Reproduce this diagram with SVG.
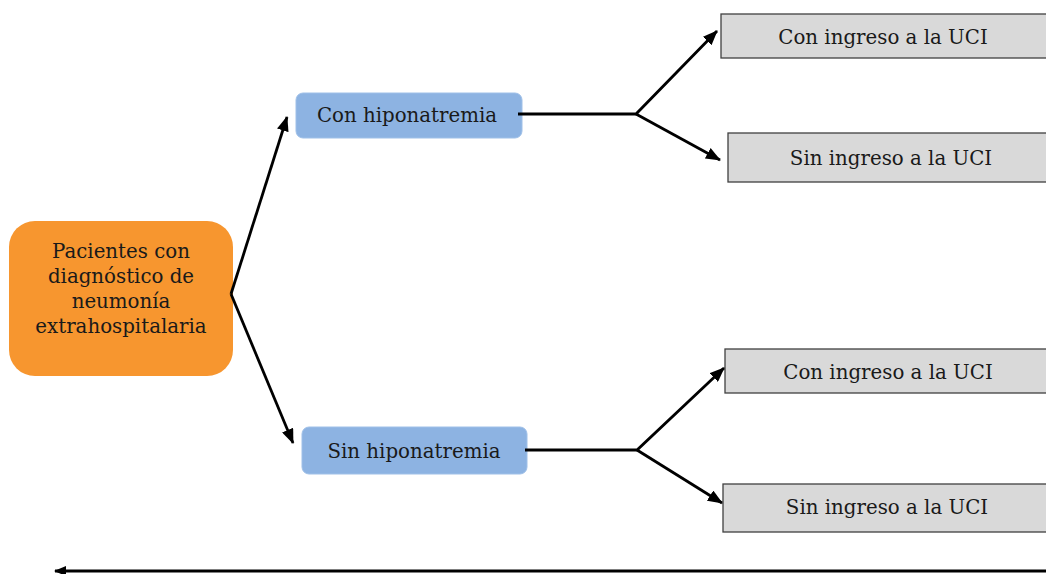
<svg xmlns="http://www.w3.org/2000/svg" width="1046" height="574" viewBox="0 0 1046 574">
<style>
.t{font-family:"DejaVu Serif","Liberation Serif",serif;font-size:19.8px;fill:#1a1a1a;text-anchor:middle;dominant-baseline:central}
.blue{fill:#8DB3E2;stroke:#9fc0e8;stroke-width:1}
.gray{fill:#D9D9D9;stroke:#404040;stroke-width:1.3}
.c{fill:none;stroke:#000;stroke-width:2.8;stroke-linejoin:miter}
</style>
<defs>
<marker id="ah" markerWidth="15" markerHeight="12" refX="14" refY="6" orient="auto" markerUnits="userSpaceOnUse">
<path d="M0,0 L15,6 L0,12 Z" fill="#000"/>
</marker>
<marker id="ah2" markerWidth="12" markerHeight="10" refX="11" refY="5" orient="auto" markerUnits="userSpaceOnUse">
<path d="M0,0 L12,5 L0,10 Z" fill="#000"/>
</marker>
</defs>
<rect width="1046" height="574" fill="#fff"/>
<g id="root">
<rect x="9" y="221" width="224" height="155" rx="26" fill="#F7962F"/>
<text class="t" x="121" y="251">Pacientes con</text>
<text class="t" x="121" y="276">diagnóstico de</text>
<text class="t" x="121" y="301">neumonía</text>
<text class="t" x="121" y="326">extrahospitalaria</text>
</g>
<g id="con-hipo">
<rect class="blue" x="296" y="93" width="226" height="45" rx="7"/>
<text class="t" x="407" y="115">Con hiponatremia</text>
</g>
<g id="sin-hipo">
<rect class="blue" x="302" y="427" width="225" height="47" rx="7"/>
<text class="t" x="414" y="451">Sin hiponatremia</text>
</g>
<g id="con-uci-1">
<rect class="gray" x="721" y="14" width="330" height="44"/>
<text class="t" x="883" y="37">Con ingreso a la UCI</text>
</g>
<g id="sin-uci-1">
<rect class="gray" x="728" y="133" width="323" height="49"/>
<text class="t" x="891" y="158">Sin ingreso a la UCI</text>
</g>
<g id="con-uci-2">
<rect class="gray" x="725" y="349" width="326" height="44"/>
<text class="t" x="888" y="372">Con ingreso a la UCI</text>
</g>
<g id="sin-uci-2">
<rect class="gray" x="723" y="484" width="328" height="48"/>
<text class="t" x="887" y="507">Sin ingreso a la UCI</text>
</g>
<g id="connectors">
<path class="c" d="M231,294 L287,117" marker-end="url(#ah)"/>
<path class="c" d="M231,294 L293,443" marker-end="url(#ah)"/>
<path class="c" d="M518,114 L636,114 L717,31" marker-end="url(#ah)"/>
<path class="c" d="M636,114 L720,160" marker-end="url(#ah)"/>
<path class="c" d="M525,450 L637,450 L724,368" marker-end="url(#ah)"/>
<path class="c" d="M637,450 L722,503" marker-end="url(#ah)"/>
<path class="c" d="M1046,571 L55,571" style="stroke-width:3.2" marker-end="url(#ah2)"/>
</g>
</svg>
